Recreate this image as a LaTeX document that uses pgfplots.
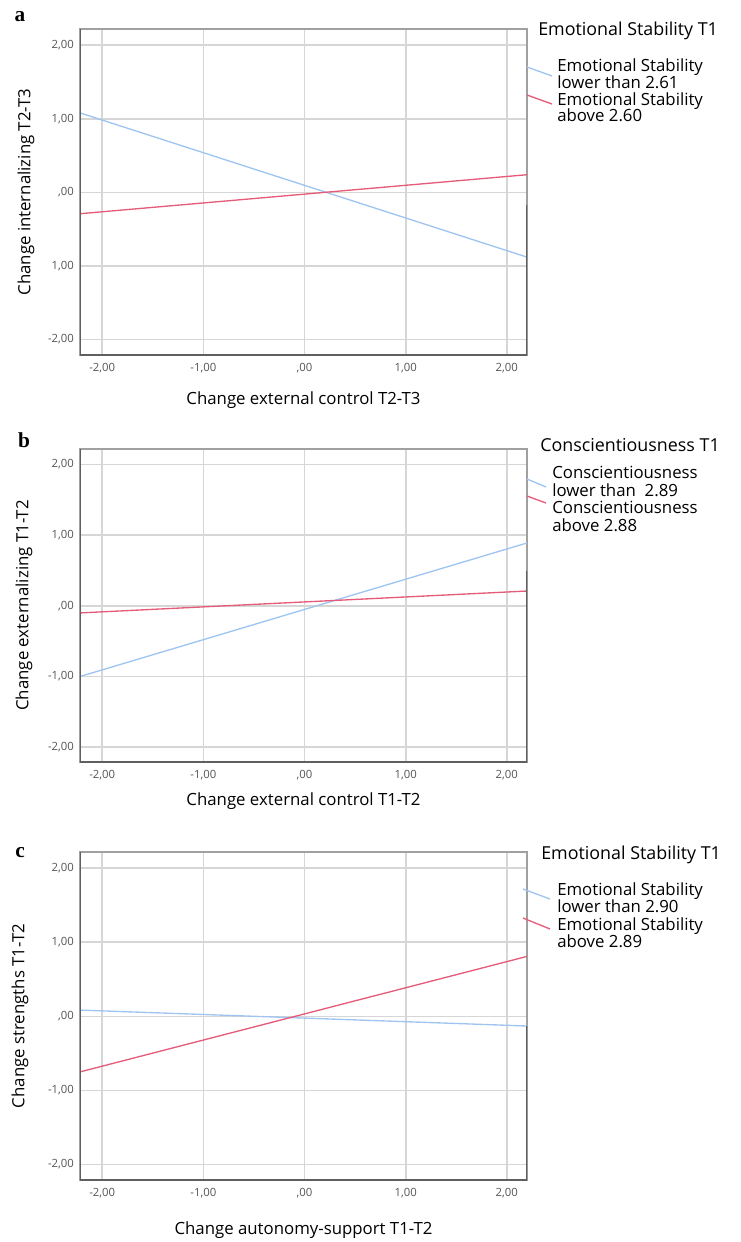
\documentclass[border=0pt]{standalone}
\usepackage{fontspec}
\setmainfont{Open Sans}
\newfontfamily\serif{Liberation Serif}
\usepackage{pgfplots}
\pgfplotsset{compat=1.18}

\definecolor{lowblue}{RGB}{160,196,240}
\definecolor{highred}{RGB}{229,92,122}
\definecolor{gridgray}{RGB}{214,214,214}
\definecolor{framegray}{RGB}{160,160,160}
\definecolor{darkframe}{RGB}{95,95,95}
\definecolor{tickgray}{RGB}{85,85,85}

\newcommand{\legfont}{\fontsize{12.6}{14}\selectfont}
\newcommand{\titfont}{\fontsize{13.4}{15}\selectfont}

\pgfplotsset{
  panel/.style={
    scale only axis, width=335.25pt, anchor=north west,
    xmin=-2.22, xmax=2.2, ymin=-2.21, ymax=2.22,
    xtick={-2,-1,0,1,2}, ytick={-2,-1,0,1,2},
    xticklabels={{-2,00},{-1,00},{,00},{1,00},{2,00}},
    yticklabels={{-2,00},{-1,00},{,00},{1,00},{2,00}},
    /pgf/number format/assume math mode=true,
    grid=major, major grid style={gridgray, line width=1.3pt},
    major tick length=0pt,
    axis line style={framegray, line width=1pt},
    tick label style={font=\fontsize{8.5}{10}\selectfont, text=tickgray},
    xticklabel style={yshift=-3pt},
    yticklabel style={xshift=-1pt},
    label style={font=\fontsize{12.6}{15}\selectfont},
    ylabel style={anchor=center},
    xlabel style={anchor=center},
    every axis plot/.append style={line width=1pt, no marks},
  },
}

% panel a
\pgfplotstableread{
x y
-2.22 1.08
2.20 -0.88
}\alow
\pgfplotstableread{
x y
-2.22 -0.29
2.20 0.24
}\ahigh
% panel b
\pgfplotstableread{
x y
-2.22 -1.00
2.20 0.89
}\blow
\pgfplotstableread{
x y
-2.22 -0.10
2.20 0.21
}\bhigh
% panel c
\pgfplotstableread{
x y
-2.22 0.085
2.20 -0.13
}\clow
\pgfplotstableread{
x y
-2.22 -0.75
2.20 0.81
}\chigh

\begin{document}
\begin{tikzpicture}
\useasboundingbox (0,0) rectangle (555.75pt,-931.5pt);

\begin{axis}[panel, at={(60pt,-21.75pt)}, height=244.5pt,
  yticklabels={{-2,00},{1,00},{,00},{1,00},{2,00}},
  xlabel={Change external control T2-T3},
  ylabel={Change internalizing T2-T3},
  xlabel style={at={(axis description cs:0.5,-0.138)}},
  ylabel style={at={(axis description cs:-0.121,0.5)}}]
\addplot[lowblue] table {\alow};
\addplot[highred] table {\ahigh};
\draw[darkframe, line width=1.3pt] (rel axis cs:0,1) -- (rel axis cs:0,0) -- (rel axis cs:1,0) -- (rel axis cs:1,0.46);
\end{axis}

\begin{axis}[panel, at={(60pt,-336.75pt)}, height=234.75pt,
  xlabel={Change external control T1-T2},
  ylabel={Change externalizing T1-T2},
  xlabel style={at={(axis description cs:0.5,-0.125)}},
  ylabel style={at={(axis description cs:-0.125,0.5)}}]
\addplot[lowblue] table {\blow};
\addplot[highred] table {\bhigh};
\draw[darkframe, line width=1.3pt] (rel axis cs:0,1) -- (rel axis cs:0,0) -- (rel axis cs:1,0) -- (rel axis cs:1,0.61);
\end{axis}

\begin{axis}[panel, at={(60pt,-639pt)}, height=246pt,
  xlabel={Change autonomy-support T1-T2},
  ylabel={Change strengths T1-T2},
  xlabel style={at={(axis description cs:0.5,-0.152)}},
  ylabel style={at={(axis description cs:-0.134,0.5)}}]
\addplot[lowblue] table {\clow};
\addplot[highred] table {\chigh};
\draw[darkframe, line width=1.3pt] (rel axis cs:0,1) -- (rel axis cs:0,0) -- (rel axis cs:1,0) -- (rel axis cs:1,0.47);
\end{axis}

% panel letters and legends, in pixel units of the reference
\begin{scope}[x=0.75pt, y=-0.75pt]
\node[font=\serif\bfseries\fontsize{16}{18}\selectfont] at (20,17) {a};
\node[font=\serif\bfseries\fontsize{16}{18}\selectfont] at (24,440) {b};
\node[font=\serif\bfseries\fontsize{16}{18}\selectfont] at (20,853) {c};

\node[anchor=mid west, inner sep=0pt, font=\titfont] at (538,32) {Emotional Stability T1};
\draw[lowblue, line width=1pt] (527,67) -- (552,76);
\draw[highred, line width=1pt] (527,95) -- (552,104);
\node[anchor=mid west, inner sep=0pt, font=\legfont] at (557,68) {Emotional Stability};
\node[anchor=mid west, inner sep=0pt, font=\legfont] at (557,85) {lower than 2.61};
\node[anchor=mid west, inner sep=0pt, font=\legfont] at (557,102) {Emotional Stability};
\node[anchor=mid west, inner sep=0pt, font=\legfont] at (557,118) {above 2.60};

\node[anchor=mid west, inner sep=0pt, font=\titfont] at (540,448) {Conscientiousness T1};
\draw[lowblue, line width=1pt] (527,479) -- (546,487);
\draw[highred, line width=1pt] (527,496) -- (546,503);
\node[anchor=mid west, inner sep=0pt, font=\legfont] at (552,475) {Conscientiousness};
\node[anchor=mid west, inner sep=0pt, font=\legfont] at (552,493) {lower than \ 2.89};
\node[anchor=mid west, inner sep=0pt, font=\legfont] at (552,510) {Conscientiousness};
\node[anchor=mid west, inner sep=0pt, font=\legfont] at (552,528) {above 2.88};

\node[anchor=mid west, inner sep=0pt, font=\titfont] at (541,856) {Emotional Stability T1};
\draw[lowblue, line width=1pt] (523,889) -- (550,899);
\draw[highred, line width=1pt] (523,918) -- (550,929);
\node[anchor=mid west, inner sep=0pt, font=\legfont] at (557,892) {Emotional Stability};
\node[anchor=mid west, inner sep=0pt, font=\legfont] at (557,909) {lower than 2.90};
\node[anchor=mid west, inner sep=0pt, font=\legfont] at (557,927) {Emotional Stability};
\node[anchor=mid west, inner sep=0pt, font=\legfont] at (557,944) {above 2.89};
\end{scope}
\end{tikzpicture}
\end{document}
